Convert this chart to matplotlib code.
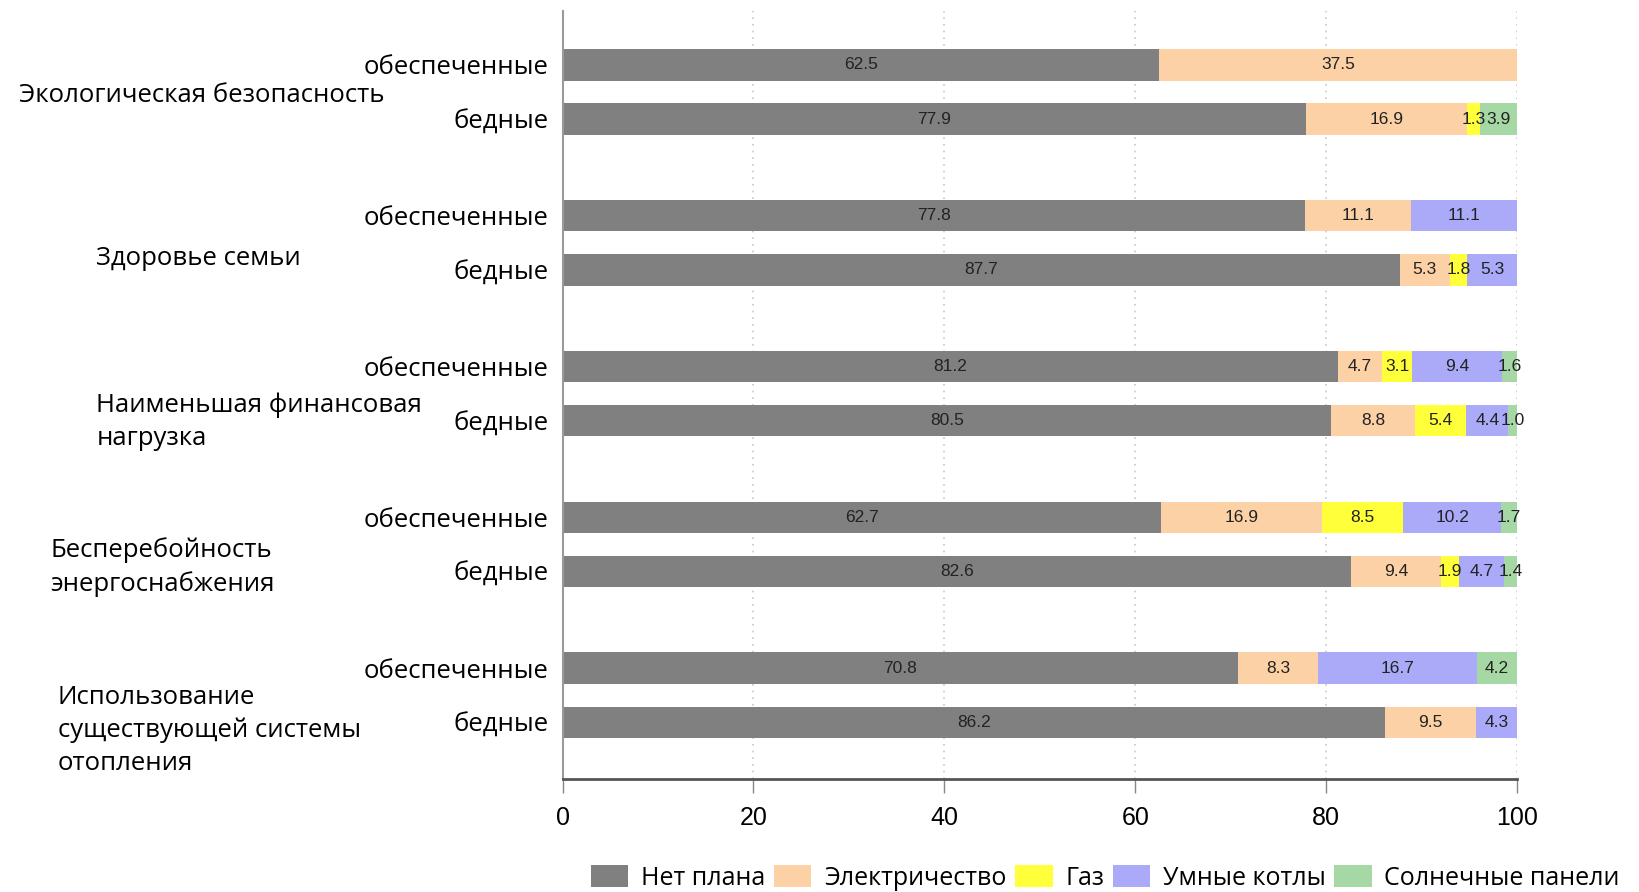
import numpy as np
import matplotlib
matplotlib.use("Agg")
import matplotlib.pyplot as plt
from matplotlib.patches import Patch
from matplotlib.transforms import blended_transform_factory

# data -------------------------------------------------------------------
GROUPS = ["Экологическая безопасность",
          "Здоровье семьи",
          "Наименьшая финансовая\nнагрузка",
          "Бесперебойность\nэнергоснабжения",
          "Использование\nсуществующей системы\nотопления"]
ROWS = ["обеспеченные", "бедные"]
SERIES = ["Нет плана", "Электричество", "Газ", "Умные котлы",
          "Солнечные панели"]

# one entry per bar, top to bottom (group x row)
no_plan = [62.5, 77.9, 77.8, 87.7, 81.2, 80.5, 62.7, 82.6, 70.8, 86.2]
electric = [37.5, 16.9, 11.1, 5.3, 4.7, 8.8, 16.9, 9.4, 8.3, 9.5]
gas = [0.0, 1.3, 0.0, 1.8, 3.1, 5.4, 8.5, 1.9, 0.0, 0.0]
smart = [0.0, 0.0, 11.1, 5.3, 9.4, 4.4, 10.2, 4.7, 16.7, 4.3]
solar = [0.0, 3.9, 0.0, 0.0, 1.6, 1.0, 1.7, 1.4, 4.2, 0.0]

XTICKS = [0, 20, 40, 60, 80, 100]

# style ------------------------------------------------------------------
COLORS = ["#808080", "#fcd1a6", "#ffff3a", "#aaaaf9", "#a6d8a6"]
TEXT_FONT = ["Open Sans", "DejaVu Sans"]
NUM_FONT = ["Liberation Sans Narrow", "Liberation Sans", "DejaVu Sans"]
GROUP_STEP = 2.78          # distance between groups, in bar steps
BAR_H = 0.58
# label placement (figure-x, downward shift in bar steps)
GROUP_X = [0.0115, 0.0587, 0.0587, 0.0306, 0.0351]
GROUP_SHIFT = [0.07, 0.28, 0.52, 0.42, 0.65]

fig = plt.figure(figsize=(16.4, 8.92), dpi=100)
ax = fig.add_axes([0.343, 0.127, 0.582, 0.861])

ypos = []
for g in range(len(GROUPS)):
    for r in range(len(ROWS)):
        ypos.append(g * GROUP_STEP + r)
ypos = np.array(ypos)

data = [no_plan, electric, gas, smart, solar]
left = np.zeros(len(ypos))
for name, vals, col in zip(SERIES, data, COLORS):
    vals = np.array(vals)
    bars = ax.barh(ypos, vals, left=left, height=BAR_H, color=col,
                   edgecolor="none", label=name)
    labels = [f"{v:.1f}" if v > 0 else "" for v in vals]
    ax.bar_label(bars, labels=labels, label_type="center", fontsize=12.5,
                 family=NUM_FONT, color="#222222")
    left += vals

ax.set_xlim(0, 100)
ax.set_ylim(ypos[-1] + 1.04, ypos[0] - 1.0)
ax.set_xticks(XTICKS)
ax.set_xticklabels([str(t) for t in XTICKS], family=NUM_FONT,
                   fontsize=18)
ax.tick_params(axis="x", length=10, width=1, color="#888888", pad=10)
ax.set_yticks(ypos)
ax.set_yticklabels(ROWS * len(GROUPS), family=TEXT_FONT, fontsize=18.5)
ax.tick_params(axis="y", length=0, pad=10)

ax.grid(axis="x", linestyle=(0, (1, 3)), color="#c8c8c8", lw=1.2)
ax.set_axisbelow(True)
for s in ("top", "right"):
    ax.spines[s].set_visible(False)
ax.spines["left"].set_color("#9a9a9a")
ax.spines["left"].set_linewidth(1.5)
ax.spines["bottom"].set_color("#555555")
ax.spines["bottom"].set_linewidth(2)

trans = blended_transform_factory(fig.transFigure, ax.transData)
for g, name in enumerate(GROUPS):
    yc = g * GROUP_STEP + 0.5 + GROUP_SHIFT[g]
    ax.text(GROUP_X[g], yc, name, transform=trans, ha="left",
            va="center", family=TEXT_FONT, fontsize=18.5, linespacing=1.42)

handles = [Patch(facecolor=c, edgecolor="none") for c in COLORS]
fig.legend(handles, SERIES, loc="center",
           bbox_to_anchor=(0.674, 0.016), ncol=5, frameon=False,
           prop={"family": TEXT_FONT, "size": 18}, handlelength=1.5,
           handleheight=1.0, handletextpad=0.5, columnspacing=0.35)

fig.savefig("out.png", dpi=100)
